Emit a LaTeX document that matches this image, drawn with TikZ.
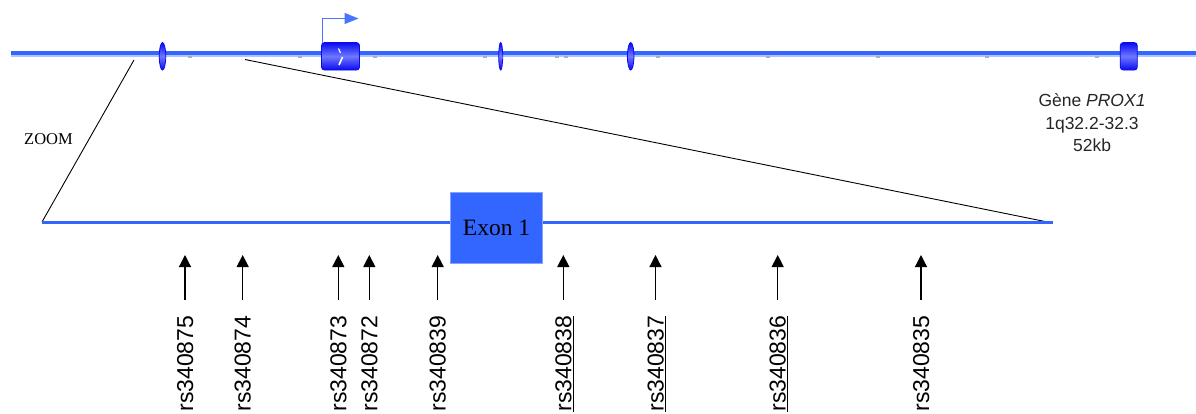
\documentclass[tikz,border=0pt]{standalone}
\usepackage{fontspec}
\setmainfont{Liberation Serif}
\setsansfont{Liberation Sans}
\usetikzlibrary{arrows.meta,shapes.geometric}
\definecolor{lineblue}{RGB}{51,102,255}
\definecolor{bandblue}{RGB}{175,195,255}
\definecolor{exdark}{RGB}{10,10,240}
\definecolor{exlight}{RGB}{110,120,255}
\definecolor{boxblue}{RGB}{51,102,255}
\definecolor{tickgray}{RGB}{175,175,175}
\begin{document}
\begin{tikzpicture}[x=1pt,y=-1pt,
  exonell/.style={ellipse,inner sep=0pt,minimum height=27.5pt,draw=exdark,line width=0.8pt,
    top color=exdark,bottom color=exdark,middle color=exlight},
  exonrect/.style={rectangle,inner sep=0pt,minimum height=27.5pt,draw=exdark,line width=0.8pt,rounded corners=3pt,
    top color=exdark,bottom color=exdark,middle color=exlight},
  snparrow/.style={-{Triangle[length=12pt,width=12pt]},line width=1.2pt,black},
  snplabel/.style={rotate=90,anchor=base east,inner sep=0pt,
    font=\sffamily\fontsize{23}{23}\selectfont},
  genetext/.style={anchor=base,inner sep=0pt,text=black!85,
    font=\sffamily\fontsize{17.5}{22}\selectfont},
  zoomline/.style={line width=0.9pt,black},
  tick/.style={tickgray,line width=1.6pt}
]
\useasboundingbox (0,0) rectangle (1196,414);
% top gene line
\coordinate (tl0) at (10.5,53.3);
\coordinate (tl1) at (1196,53.3);
\coordinate (bl0) at (11,56.3);
\coordinate (bl1) at (1196,56.3);
\draw[bandblue,line width=2pt] (bl0) -- (bl1);
\draw[lineblue,line width=3.6pt] (tl0) -- (tl1);
% gray ticks
\foreach \tx in {190,300,375,485,557,566,658,768,878,987,1097}
  \draw[tick] (\tx-2,56.8) -- (\tx+2,56.8);
% exons
\node[exonell,minimum width=6.5pt] (e1) at (162.5,56.3) {};
\node[exonrect,minimum width=38pt] (e2) at (340.5,56.3) {};
\node[exonell,minimum width=4pt] (e3) at (500.7,56.3) {};
\node[exonell,minimum width=6.5pt] (e4) at (630.7,56.3) {};
\node[exonrect,minimum width=17pt] (e5) at (1128.8,56.3) {};
% white mark in exon
\draw[white,line width=1.2pt] (338.5,48.5) -- (340.5,53);
\draw[white,line width=1.6pt] (342.5,57) -- (339,65);
% promoter arrow
\coordinate (p0) at (322.6,43);
\coordinate (p1) at (322.6,18.5);
\coordinate (p2) at (358.5,18.5);
\draw[lineblue!90!white,line width=1.3pt,-{Triangle[length=14pt,width=11pt]}] (p0) -- (p1) -- (p2);
% zoom lines
\coordinate (z1) at (134,60);
\coordinate (z2) at (42,222);
\coordinate (z3) at (245,59.5);
\coordinate (z4) at (1045,221.5);
\draw[zoomline] (z1) -- (z2);
\draw[zoomline] (z3) -- (z4);
\node[anchor=base west,inner sep=0pt,font=\fontsize{16.5}{16.5}\selectfont] (zoom) at (24,145) {ZOOM};
% bottom line
\coordinate (b0) at (42,222.7);
\coordinate (b1) at (1053,222.7);
\draw[lineblue,line width=3pt] (b0) -- (b1);
\node[rectangle,fill=boxblue,draw=boxblue!60!white,line width=0.6pt,minimum width=91.5pt,minimum height=71pt,inner sep=0pt,
  font=\fontsize{23.5}{23.5}\selectfont] (exon1) at (496.5,227.8) {\raisebox{-1.5pt}{Exon 1}};
% gene text
\node[genetext] (g1) at (1092,106.7) {Gène \textit{PROX1}};
\node[genetext] (g2) at (1092,129.5) {1q32.2-32.3};
\node[genetext] (g3) at (1092,151.7) {52kb};
% SNPs
\foreach \i/\sx/\lab in {1/185/rs340875,2/242.7/rs340874,3/338.3/rs340873,4/369.3/rs340872,5/437.7/rs340839,
  6/563.3/\underline{rs340838},7/655.5/\underline{rs340837},8/777.7/\underline{rs340836},9/921/rs340835}{
  \coordinate (s\i) at (\sx,299.5);
  \coordinate (t\i) at (\sx,255);
  \draw[snparrow] (s\i) -- (t\i);
  \node[snplabel] (l\i) at (\sx+8,315.5) {\lab};
}
\end{tikzpicture}
\end{document}
